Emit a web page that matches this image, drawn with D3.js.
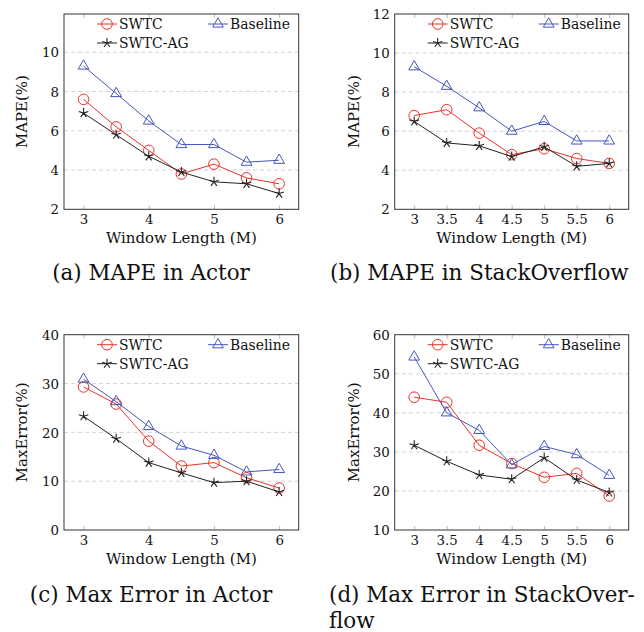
<!DOCTYPE html>
<html><head><meta charset="utf-8">
<script src="https://cdn.jsdelivr.net/npm/d3@7"></script>
<style>
body{margin:0;background:#fff;}
svg text{font-family:"DejaVu Serif",serif;fill:#111;}
</style></head>
<body><svg id="c" width="644" height="632"></svg>
<script>
const windowLengths = [3, 3.5, 4, 4.5, 5, 5.5, 6];
const seriesNames = ["SWTC", "Baseline", "SWTC-AG"];

const mapeActorSWTC     = [7.6, 6.2, 5.0, 3.8, 4.3, 3.6, 3.3];
const mapeActorBaseline = [9.3, 7.9, 6.5, 5.3, 5.3, 4.4, 4.5];
const mapeActorAG       = [6.9, 5.8, 4.7, 3.9, 3.4, 3.3, 2.8];

const mapeSOSWTC     = [6.8, 7.1, 5.9, 4.8, 5.1, 4.6, 4.35];
const mapeSOBaseline = [9.3, 8.3, 7.2, 6.0, 6.5, 5.5, 5.5];
const mapeSOAG       = [6.5, 5.4, 5.25, 4.7, 5.2, 4.2, 4.35];

const maxErrActorSWTC     = [29.3, 25.8, 18.2, 13.1, 13.8, 10.7, 8.6];
const maxErrActorBaseline = [30.9, 26.3, 21.2, 17.2, 15.3, 11.9, 12.4];
const maxErrActorAG       = [23.3, 18.7, 13.8, 11.7, 9.7, 10.0, 7.8];

const maxErrSOSWTC     = [44.0, 42.7, 31.7, 27.0, 23.5, 24.5, 18.7];
const maxErrSOBaseline = [54.3, 40.0, 35.5, 26.7, 31.4, 29.3, 24.0];
const maxErrSOAG       = [31.7, 27.6, 24.1, 23.0, 28.5, 22.8, 19.6];

const xTicksA = [3, 4, 5, 6];
const xTicksB = [3, 3.5, 4, 4.5, 5, 5.5, 6];
const yTicksMape = [2, 4, 6, 8, 10, 12];
const yTicksMaxA = [0, 10, 20, 30, 40];
const yTicksMaxB = [10, 20, 30, 40, 50, 60];

const yLabelMape = "MAPE(%)";
const yLabelMax = "MaxError(%)";
const xLabel = "Window Length (M)";

const colors = {"SWTC":"#e8322b","Baseline":"#4657bb","SWTC-AG":"#222222"};

const svg = d3.select("#c");

function fitSize(text, targetW) {
  const t = svg.append("text").attr("font-size", 100).text(text);
  const w = t.node().getComputedTextLength();
  t.remove();
  return 100 * targetW / w;
}
const fsCaption = fitSize("(d) Max Error in StackOver-", 306);
const fsAxis = fitSize(xLabel, 151);
const fsLegend = fitSize("Baseline", 60);
const fsTick = fitSize("10", 17);

function panel(o){
  const g = svg.append("g");
  const x = d3.scaleLinear().domain([2.7, 6.3]).range([o.l, o.r]);
  const y = d3.scaleLinear().domain(o.yDom).range([o.b, o.t]);
  g.selectAll(".grid").data(o.yTicks.filter(v => v > o.yDom[0] && v < o.yDom[1])).join("line")
    .attr("x1", o.l).attr("x2", o.r).attr("y1", d => y(d)).attr("y2", d => y(d))
    .attr("stroke", "#c8c8c8").attr("stroke-width", 0.8).attr("stroke-dasharray", "4,3");
  const xa = d3.axisBottom(x).tickValues(o.xTicks).tickSize(-4).tickFormat(d3.format("~g"));
  const xg = g.append("g").attr("transform", `translate(0,${o.b})`).call(xa);
  xg.select(".domain").remove();
  xg.selectAll(".tick line").attr("stroke", "#aaa").attr("stroke-width", 0.8);
  xg.selectAll(".tick text").attr("dy", null).attr("y", 15).attr("font-size", fsTick).attr("fill","#111")
    .attr("font-family", '"DejaVu Serif",serif');
  const xt = d3.axisTop(x).tickValues(o.xTicks).tickSize(-4).tickFormat("");
  const xtg = g.append("g").attr("transform", `translate(0,${o.t})`).call(xt);
  xtg.select(".domain").remove();
  xtg.selectAll(".tick line").attr("stroke", "#aaa").attr("stroke-width", 0.8);
  const ya = d3.axisLeft(y).tickValues(o.yTicks).tickSize(0).tickPadding(5);
  const yg = g.append("g").attr("transform", `translate(${o.l},0)`).call(ya);
  yg.select(".domain").remove();
  yg.selectAll(".tick text").attr("font-size", fsTick).attr("fill","#111").attr("dy","0.35em")
    .attr("font-family", '"DejaVu Serif",serif');
  g.append("rect").attr("x", o.l).attr("y", o.t).attr("width", o.r - o.l).attr("height", o.b - o.t)
    .attr("fill", "none").attr("stroke", "#333").attr("stroke-width", 1);
  g.append("text").attr("x", (o.l + o.r) / 2).attr("y", o.b + 34).attr("text-anchor", "middle")
    .attr("font-size", fsAxis).text(xLabel);
  g.append("text").attr("transform", `translate(${o.yl},${(o.t + o.b) / 2}) rotate(-90)`)
    .attr("text-anchor", "middle").attr("dy", "0.35em").attr("font-size", fsAxis).text(o.yLabel);
  const line = d3.line().x((d, i) => x(windowLengths[i])).y(d => y(d));
  o.series.forEach((vals, si) => {
    const name = seriesNames[si];
    g.append("path").datum(vals).attr("d", line).attr("fill", "none")
      .attr("stroke", colors[name]).attr("stroke-width", 1);
    vals.forEach((v, i) => marker(g, name, x(windowLengths[i]), y(v)));
  });
  const lx = o.l + 43, ly = o.t + 10;
  const pos = [[lx, ly, "SWTC"], [lx + 111, ly, "Baseline"], [lx, ly + 19, "SWTC-AG"]];
  pos.forEach(([px, py, name]) => {
    g.append("line").attr("x1", px - 10).attr("x2", px + 10).attr("y1", py).attr("y2", py)
      .attr("stroke", colors[name]).attr("stroke-width", 1);
    marker(g, name, px, py);
    g.append("text").attr("x", px + 12).attr("y", py).attr("dy", "0.35em")
      .attr("font-size", fsLegend).text(name);
  });
  o.caption.forEach((c, i) => {
    g.append("text").attr("x", o.cx).attr("y", o.cy + i * 26).attr("font-size", fsCaption)
      .attr("text-anchor", o.anchor || "start").text(c);
  });
}

function marker(g, name, cx, cy) {
  const c = colors[name];
  if (name === "SWTC") {
    g.append("circle").attr("cx", cx).attr("cy", cy).attr("r", 5.3).attr("fill", "none")
      .attr("stroke", c).attr("stroke-width", 1);
  } else if (name === "Baseline") {
    const s = 6.2;
    g.append("path").attr("d", `M${cx},${cy - s}L${cx + s * 0.87},${cy + s * 0.5}L${cx - s * 0.87},${cy + s * 0.5}Z`)
      .attr("fill", "none").attr("stroke", c).attr("stroke-width", 1);
  } else {
    const s = 5;
    let d = "";
    for (let k = 0; k < 5; k++) {
      const a = -Math.PI / 2 + k * 2 * Math.PI / 5;
      d += `M${cx},${cy}L${cx + s * Math.cos(a)},${cy + s * Math.sin(a)}`;
    }
    g.append("path").attr("d", d).attr("stroke", c).attr("stroke-width", 1.1).attr("fill", "none");
  }
}

panel({l:64, r:298.7, t:14, b:209.3, yDom:[2, 11.95], yTicks:[2,4,6,8,10], xTicks:xTicksA, yl:22,
  yLabel:yLabelMape, series:[mapeActorSWTC, mapeActorBaseline, mapeActorAG],
  caption:["(a) MAPE in Actor"], cx:151, cy:280, anchor:"middle"});
panel({l:394.7, r:628.7, t:14, b:209.3, yDom:[2, 12], yTicks:yTicksMape, xTicks:xTicksB, yl:353.7,
  yLabel:yLabelMape, series:[mapeSOSWTC, mapeSOBaseline, mapeSOAG],
  caption:["(b) MAPE in StackOverflow"], cx:330, cy:280});
panel({l:64, r:298.7, t:334.7, b:530, yDom:[0, 40], yTicks:yTicksMaxA, xTicks:xTicksA, yl:22,
  yLabel:yLabelMax, series:[maxErrActorSWTC, maxErrActorBaseline, maxErrActorAG],
  caption:["(c) Max Error in Actor"], cx:151, cy:602, anchor:"middle"});
panel({l:394.7, r:628.7, t:334.7, b:530, yDom:[10, 60], yTicks:yTicksMaxB, xTicks:xTicksB, yl:353.7,
  yLabel:yLabelMax, series:[maxErrSOSWTC, maxErrSOBaseline, maxErrSOAG],
  caption:["(d) Max Error in StackOver-", "flow"], cx:329, cy:602});
</script></body></html>
